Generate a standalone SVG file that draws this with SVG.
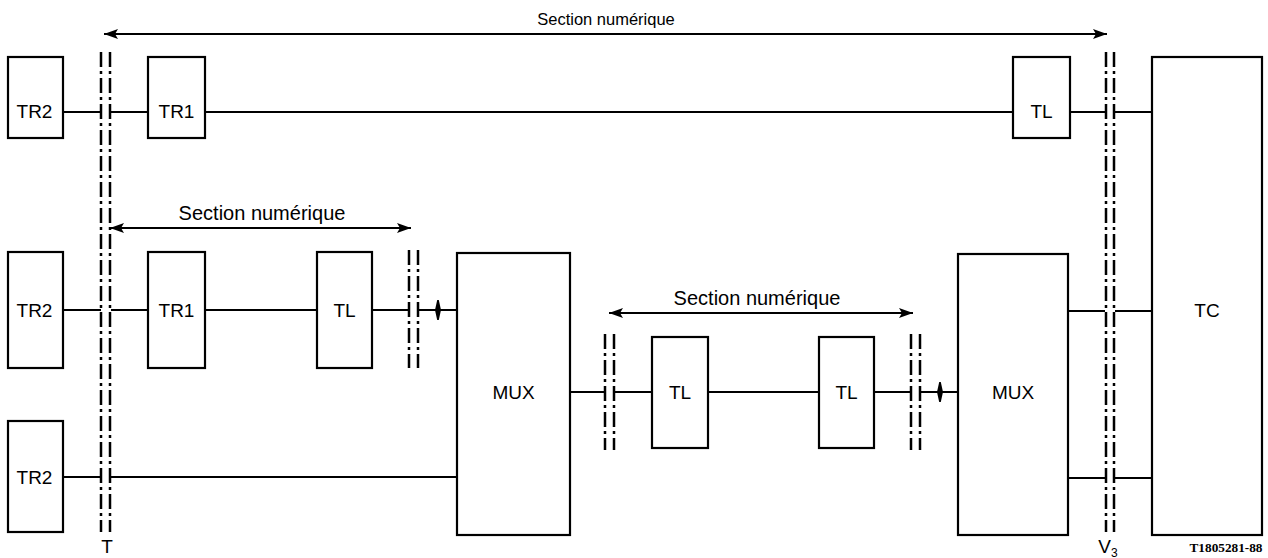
<svg xmlns="http://www.w3.org/2000/svg" width="1268" height="558" viewBox="0 0 1268 558">
<style>
.box{fill:#fff;stroke:#000;stroke-width:2.2}
.ln{stroke:#000;stroke-width:2.2;fill:none}
.dd{stroke:#000;stroke-width:2.5;stroke-dasharray:15,4,3,4;fill:none}
.t{font-family:"Liberation Sans",Arial,sans-serif;font-size:19px;fill:#000;text-anchor:middle}
.s{font-family:"Liberation Sans",Arial,sans-serif;font-size:20px;fill:#000;text-anchor:middle}
.ref{font-family:"Liberation Serif","Times New Roman",serif;font-size:12.5px;font-weight:bold;fill:#000;text-anchor:middle}
.tick{fill:#000}
</style>
<defs>
<marker id="ah" viewBox="0 0 14 10" refX="14" refY="5" markerWidth="14" markerHeight="10" markerUnits="userSpaceOnUse" orient="auto-start-reverse">
<path d="M0,0 L14,5 L0,10 L3,5 Z" fill="#000"/>
</marker>
</defs>
<rect width="1268" height="558" fill="#fff"/>
<g id="connectors">
<line class="ln" x1="63" y1="112" x2="101" y2="112"/>
<line class="ln" x1="111" y1="112" x2="148" y2="112"/>
<line class="ln" x1="205" y1="112" x2="1013" y2="112"/>
<line class="ln" x1="1070" y1="112" x2="1105" y2="112"/>
<line class="ln" x1="1115" y1="112" x2="1152" y2="112"/>
<line class="ln" x1="63" y1="310" x2="101" y2="310"/>
<line class="ln" x1="111" y1="310" x2="148" y2="310"/>
<line class="ln" x1="205" y1="310" x2="317" y2="310"/>
<line class="ln" x1="372" y1="310" x2="409" y2="310"/>
<line class="ln" x1="419" y1="310" x2="457" y2="310"/>
<path class="tick" d="M437.2,300 L438.8,300 L441,310 L438.8,320 L437.2,320 L435,310 Z"/>
<line class="ln" x1="63" y1="477" x2="101" y2="477"/>
<line class="ln" x1="111" y1="477" x2="457" y2="477"/>
<line class="ln" x1="570" y1="392" x2="605" y2="392"/>
<line class="ln" x1="615" y1="392" x2="652" y2="392"/>
<line class="ln" x1="708" y1="392" x2="819" y2="392"/>
<line class="ln" x1="874" y1="392" x2="911" y2="392"/>
<line class="ln" x1="921" y1="392" x2="958" y2="392"/>
<path class="tick" d="M939.2,382 L940.8,382 L943,392 L940.8,402 L939.2,402 L937,392 Z"/>
<line class="ln" x1="1068" y1="311" x2="1105" y2="311"/>
<line class="ln" x1="1115" y1="311" x2="1152" y2="311"/>
<line class="ln" x1="1068" y1="478" x2="1105" y2="478"/>
<line class="ln" x1="1115" y1="478" x2="1152" y2="478"/>
<line class="dd" x1="101" y1="52" x2="101" y2="532"/>
<line class="dd" x1="110" y1="52" x2="110" y2="532"/>
<line class="dd" x1="1106" y1="52" x2="1106" y2="532"/>
<line class="dd" x1="1114" y1="52" x2="1114" y2="532"/>
<line class="dd" x1="409" y1="250" x2="409" y2="368"/>
<line class="dd" x1="418" y1="250" x2="418" y2="368"/>
<line class="dd" x1="605" y1="334" x2="605" y2="450"/>
<line class="dd" x1="614" y1="334" x2="614" y2="450"/>
<line class="dd" x1="911" y1="334" x2="911" y2="450"/>
<line class="dd" x1="920" y1="334" x2="920" y2="450"/>
<line class="ln" x1="104" y1="34" x2="1107" y2="34" marker-start="url(#ah)" marker-end="url(#ah)"/>
<line class="ln" x1="110" y1="228" x2="411" y2="228" marker-start="url(#ah)" marker-end="url(#ah)"/>
<line class="ln" x1="609" y1="313" x2="913" y2="313" marker-start="url(#ah)" marker-end="url(#ah)"/>
</g>
<g id="labels">
<text class="s" x="606" y="25" style="font-size:16.5px">Section numérique</text>
<text class="s" x="262" y="220">Section numérique</text>
<text class="s" x="757" y="305">Section numérique</text>
<text class="t" x="107" y="553">T</text>
<text class="t" x="1108" y="553">V<tspan style="font-size:12px" dy="4">3</tspan></text>
<text class="ref" x="1226" y="552" textLength="73" lengthAdjust="spacingAndGlyphs">T1805281-88</text>
</g>
<g id="tr2a"><rect class="box" x="8" y="57" width="55" height="81"/><text class="t" x="34.5" y="118">TR2</text></g>
<g id="tr1a"><rect class="box" x="148" y="57" width="57" height="81"/><text class="t" x="176.5" y="118">TR1</text></g>
<g id="tla"><rect class="box" x="1013" y="57" width="57" height="81"/><text class="t" x="1041.5" y="118">TL</text></g>
<g id="tc"><rect class="box" x="1152" y="57" width="110" height="478"/><text class="t" x="1207" y="317">TC</text></g>
<g id="tr2b"><rect class="box" x="8" y="252" width="55" height="116"/><text class="t" x="34.5" y="317">TR2</text></g>
<g id="tr1b"><rect class="box" x="148" y="252" width="57" height="116"/><text class="t" x="176.5" y="317">TR1</text></g>
<g id="tlb"><rect class="box" x="317" y="252" width="55" height="116"/><text class="t" x="344.5" y="317">TL</text></g>
<g id="mux1"><rect class="box" x="457" y="253" width="113" height="282"/><text class="t" x="513.5" y="399">MUX</text></g>
<g id="tr2c"><rect class="box" x="8" y="421" width="55" height="111"/><text class="t" x="34.5" y="484">TR2</text></g>
<g id="tlc"><rect class="box" x="652" y="337" width="56" height="111"/><text class="t" x="680" y="399">TL</text></g>
<g id="tld"><rect class="box" x="819" y="337" width="55" height="111"/><text class="t" x="846.5" y="399">TL</text></g>
<g id="mux2"><rect class="box" x="958" y="254" width="110" height="281"/><text class="t" x="1013" y="399">MUX</text></g>
</svg>
